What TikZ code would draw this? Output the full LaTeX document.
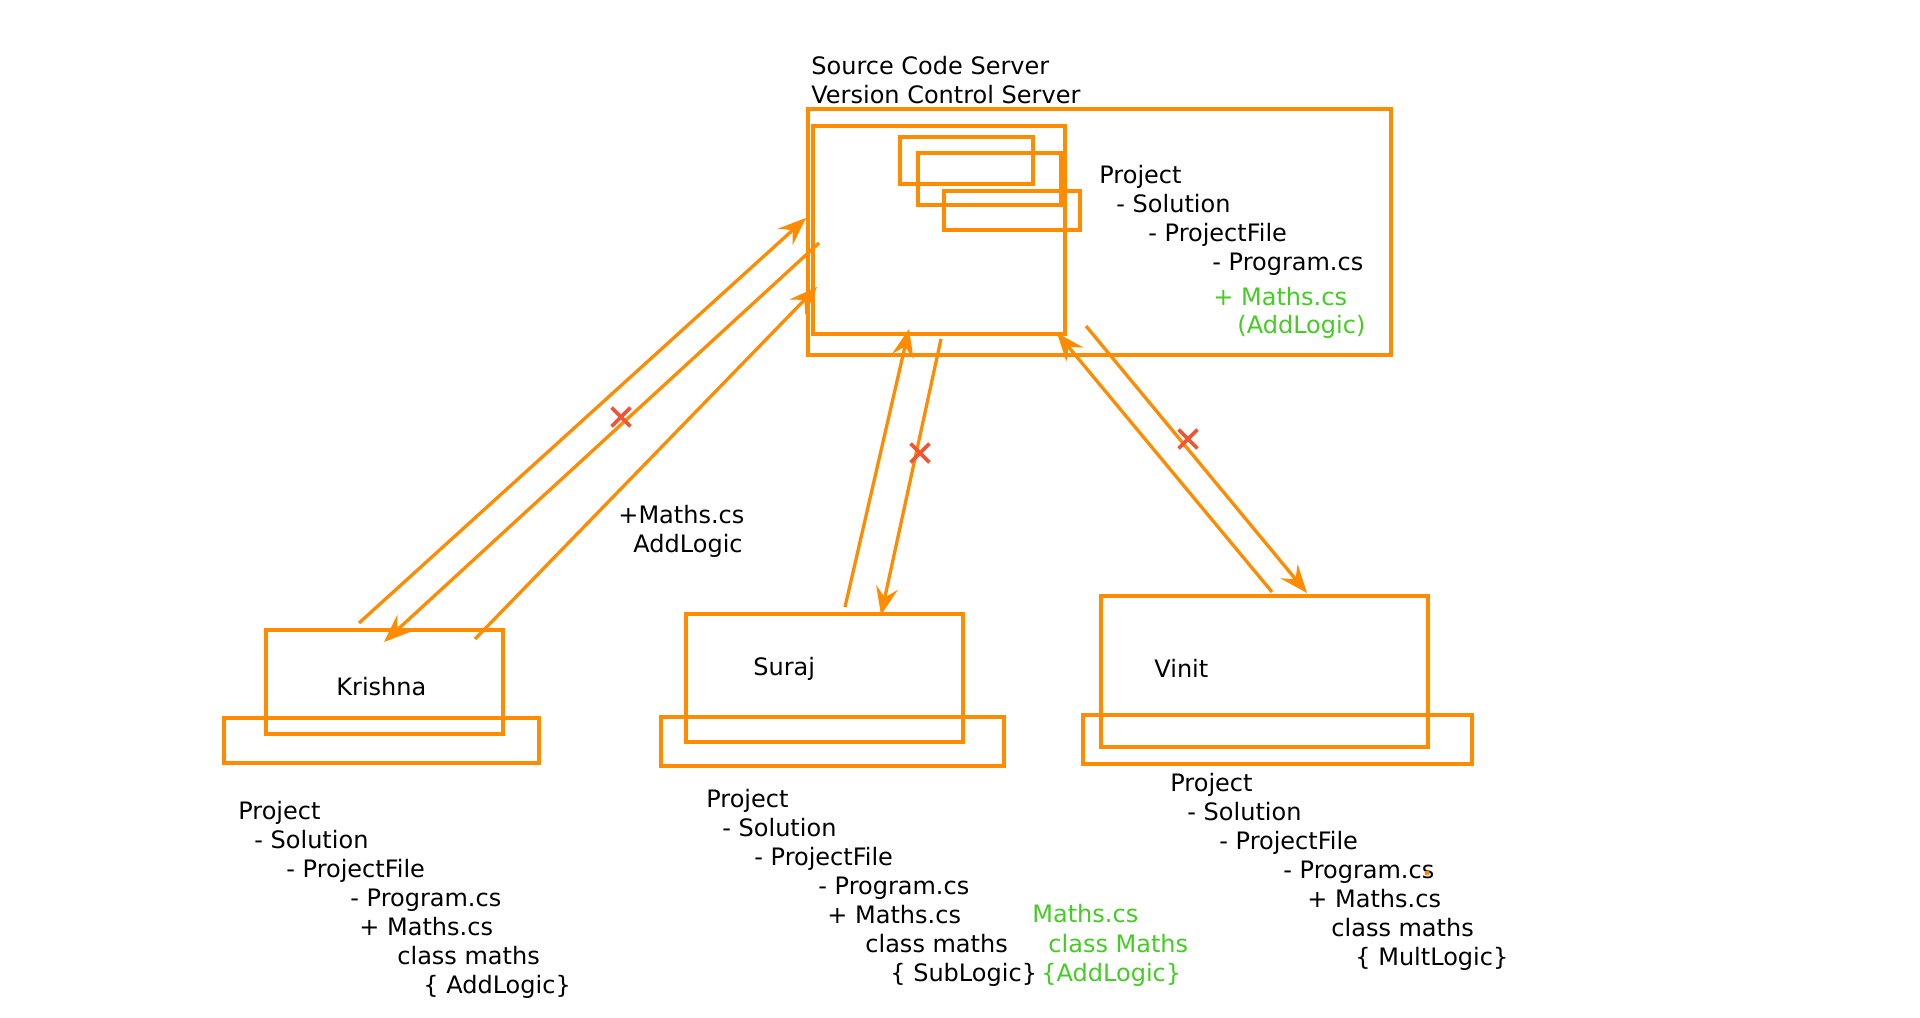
\documentclass[tikz,border=0pt]{standalone}
\usepackage{fontspec}
\setmainfont{DejaVu Sans}
\usetikzlibrary{arrows.meta,fit,shapes.misc}
\definecolor{orng}{RGB}{255,140,0}
\definecolor{grn}{RGB}{68,204,34}
\definecolor{xred}{RGB}{240,85,55}
\begin{document}
\begin{tikzpicture}[x=0.5pt,y=-0.5pt,
  box/.style={draw=orng, line width=1.65pt, rectangle, inner sep=0pt},
  txt/.style={anchor=base west, inner sep=0pt, font=\fontsize{12pt}{14.5pt}\selectfont, text=black},
  gtxt/.style={txt, text=grn},
  arr/.style={draw=orng, line width=1.65pt, -{Stealth[length=14pt,width=11pt,inset=5pt]}},
  xmark/.style={cross out, draw=xred, line width=1.9pt, minimum size=7.5pt, inner sep=0pt},
]
\useasboundingbox (0,0) rectangle (1920,1017);

% ---------- server ----------
\node[box, fit={(808,109) (1391,355)}] (server) {};
\node[box, fit={(813,126) (1065,334)}] (repo) {};
\node[box, fit={(900,137) (1033,184)}] (s1) {};
\node[box, fit={(918,153) (1061,205)}] (s2) {};
\node[box, fit={(944,191) (1080,230)}] (s3) {};
\node[txt] (title1) at (811,74) {Source Code Server};
\node[txt] (title2) at (811,103) {Version Control Server};
\foreach \px/\py/\s [count=\i] in {1099/183/Project, 1116/212/- Solution, 1148/241/- ProjectFile, 1212/270/- Program.cs}
  \node[txt] (sv\i) at (\px,\py) {\s};
\node[gtxt] (svg1) at (1213,305) {+ Maths.cs};
\node[gtxt] (svg2) at (1237,333) {(AddLogic)};

% ---------- clients ----------
\node[box, fit={(224,718) (539,763)}] (kbase) {};
\node[box, fit={(266,630) (503,734)}] (krishna) {};
\node[txt] (kname) at (336,695) {Krishna};

\node[box, fit={(661,717) (1004,766)}] (sbase) {};
\node[box, fit={(686,614) (963,742)}] (suraj) {};
\node[txt] (sname) at (753,675) {Suraj};

\node[box, fit={(1083,715) (1472,764)}] (vbase) {};
\node[box, fit={(1101,596) (1428,747)}] (vinit) {};
\node[txt] (vname) at (1154,677) {Vinit};

% ---------- client trees ----------
\foreach \px/\py/\s [count=\i] in {238/819/Project, 254/848/- Solution, 286/877/- ProjectFile, 350/906/- Program.cs, 359/935/+ Maths.cs, 397/964/class maths, 423/993/\{ AddLogic\}}
  \node[txt] (kt\i) at (\px,\py) {\s};
\foreach \px/\py/\s [count=\i] in {706/807/Project, 722/836/- Solution, 754/865/- ProjectFile, 818/894/- Program.cs, 827/923/+ Maths.cs, 865/952/class maths, 890/981/\{ SubLogic\}}
  \node[txt] (st\i) at (\px,\py) {\s};
\foreach \px/\py/\s [count=\i] in {1032/922/Maths.cs, 1048/952/class Maths, 1041/981/\{AddLogic\}}
  \node[gtxt] (sg\i) at (\px,\py) {\s};
\foreach \px/\py/\s [count=\i] in {1170/791/Project, 1187/820/- Solution, 1219/849/- ProjectFile, 1283/878/- Program.cs, 1307/907/+ Maths.cs, 1331/936/class maths, 1355/965/\{ MultLogic\}}
  \node[txt] (vt\i) at (\px,\py) {\s};
\node[circle, fill=orng, inner sep=0pt, minimum size=2.5pt] (dot) at (1427,873) {};

% ---------- connectors ----------
\coordinate (a1s) at (359,623);  \coordinate (a1e) at (806,218);
\coordinate (a2s) at (819,243);  \coordinate (a2e) at (384,642);
\coordinate (a3s) at (475,639);  \coordinate (a3e) at (817,287);
\coordinate (a4s) at (845,607);  \coordinate (a4e) at (909,329);
\coordinate (a5s) at (941,339);  \coordinate (a5e) at (881,615);
\coordinate (a6s) at (1272,592); \coordinate (a6e) at (1057,333);
\coordinate (a7s) at (1086,326); \coordinate (a7e) at (1307,593);
\foreach \k in {1,...,7} \draw[arr] (a\k s) -- (a\k e);

\node[txt] (lbl1) at (618,523) {+Maths.cs};
\node[txt] (lbl2) at (633,552) {AddLogic};

\node[xmark] (x1) at (621,417) {};
\node[xmark] (x2) at (920,453) {};
\node[xmark] (x3) at (1188,439) {};
\end{tikzpicture}
\end{document}
